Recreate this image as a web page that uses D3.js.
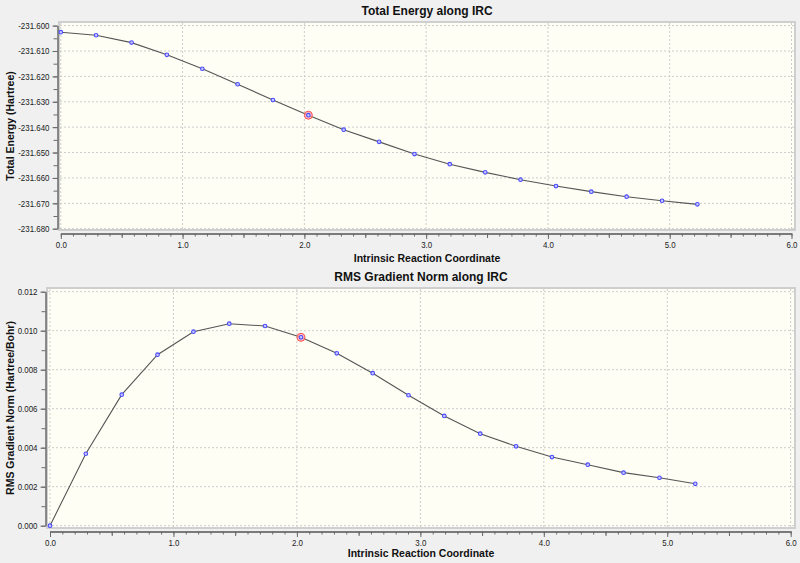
<!DOCTYPE html>
<html>
<head>
<meta charset="utf-8">
<script src="https://cdn.jsdelivr.net/npm/d3@7/dist/d3.min.js"></script>
<style>
  html, body { margin: 0; padding: 0; background: #f0f0f0; }
  svg { display: block; }
  .tick text { font-family: "Liberation Sans", Arial, sans-serif; font-size: 9px; fill: #222; }
</style>
</head>
<body>
<svg id="chart" width="800" height="563"></svg>
<script>
// ---- data ----
const ircCoord = [0, 0.290, 0.581, 0.871, 1.162, 1.452, 1.742, 2.033, 2.323, 2.614, 2.904, 3.194, 3.485, 3.775, 4.066, 4.356, 4.646, 4.937, 5.227];
const totalEnergy = [-231.6026, -231.6038, -231.6067, -231.6115, -231.6170, -231.6231, -231.6293, -231.6353, -231.6410, -231.6458, -231.6506, -231.6546, -231.6578, -231.6607, -231.6632, -231.6654, -231.6674, -231.6690, -231.6704];
const rmsGradient = [0, 0.00369, 0.00672, 0.00877, 0.00995, 0.01036, 0.01024, 0.00966, 0.00884, 0.00782, 0.00669, 0.00563, 0.00472, 0.00407, 0.00352, 0.00313, 0.00272, 0.00246, 0.00215];
const highlightIndex = 7;
const xTicks = [0, 1, 2, 3, 4, 5, 6];
const energyTicks = [-231.600, -231.610, -231.620, -231.630, -231.640, -231.650, -231.660, -231.670, -231.680];
const gradientTicks = [0.000, 0.002, 0.004, 0.006, 0.008, 0.010, 0.012];
const titles = ["Total Energy along IRC", "RMS Gradient Norm along IRC"];
const yTitles = ["Total Energy (Hartree)", "RMS Gradient Norm (Hartree/Bohr)"];
const xTitle = "Intrinsic Reaction Coordinate";

const svg = d3.select("#chart");
const fontMain = "'Liberation Sans', Arial, sans-serif";

function condense(sel, factor) {
  sel.each(function () {
    const len = this.getComputedTextLength();
    if (len > 0) {
      d3.select(this).attr("textLength", len * factor).attr("lengthAdjust", "spacingAndGlyphs");
    }
  });
}

function drawChart(cfg) {
  const g = svg.append("g");
  const x = d3.scaleLinear().domain([0, 6]).range(cfg.xRange);
  const y = d3.scaleLinear().domain(cfg.yDomain).range(cfg.yRange);

  // plot background
  g.append("rect")
    .attr("x", cfg.plot.x0).attr("y", cfg.plot.y0)
    .attr("width", cfg.plot.x1 - cfg.plot.x0).attr("height", cfg.plot.y1 - cfg.plot.y0)
    .attr("fill", "#fefef5").attr("stroke", "#cfcfcf").attr("stroke-width", 2);

  // grid
  g.append("g").selectAll("line").data(xTicks).join("line")
    .attr("x1", d => x(d)).attr("x2", d => x(d))
    .attr("y1", cfg.plot.y0 + 1).attr("y2", cfg.plot.y1 - 1)
    .attr("stroke", "#cccccc").attr("stroke-dasharray", "2,2");
  g.append("g").selectAll("line").data(cfg.yTicks).join("line")
    .attr("x1", cfg.plot.x0 + 1).attr("x2", cfg.plot.x1 - 1)
    .attr("y1", d => y(d)).attr("y2", d => y(d))
    .attr("stroke", "#cccccc").attr("stroke-dasharray", "2,2");

  // y axis
  const yMinor = d3.range(0, 2 * (cfg.yTicks.length - 1) + 1).map(i => cfg.yDomain[0] + i * cfg.yMinorStep);
  g.append("g").attr("transform", `translate(${cfg.yAxisX},0)`)
    .call(d3.axisLeft(y).tickValues(yMinor).tickSize(4).tickSizeOuter(0).tickFormat(""));
  const yAx = g.append("g").attr("transform", `translate(${cfg.yAxisX},0)`)
    .call(d3.axisLeft(y).tickValues(cfg.yTicks).tickSize(5).tickSizeOuter(0).tickPadding(3).tickFormat(d => d.toFixed(3)));
  condense(yAx.selectAll(".tick text"), 0.88);
  // x axis
  const xMinor = d3.range(0, 61).map(i => i / 10);
  const xMid = d3.range(0, 6).map(i => i + 0.5);
  g.append("g").attr("transform", `translate(0,${cfg.xAxisY})`)
    .call(d3.axisBottom(x).tickValues(xMinor).tickSize(3).tickSizeOuter(0).tickFormat(""));
  g.append("g").attr("transform", `translate(0,${cfg.xAxisY})`)
    .call(d3.axisBottom(x).tickValues(xMid).tickSize(4.5).tickSizeOuter(0).tickFormat(""));
  const xAx = g.append("g").attr("transform", `translate(0,${cfg.xAxisY})`)
    .call(d3.axisBottom(x).tickValues(xTicks).tickSize(5.5).tickSizeOuter(0).tickPadding(3).tickFormat(d => d.toFixed(1)));
  condense(xAx.selectAll(".tick text"), 0.88);
  g.selectAll(".domain, .tick line").attr("stroke", "#6a6a6a");

  // line
  const pts = ircCoord.map((c, i) => [c, cfg.values[i]]);
  g.append("path").datum(pts)
    .attr("fill", "none").attr("stroke", "#555555").attr("stroke-width", 1.1)
    .attr("d", d3.line().x(d => x(d[0])).y(d => y(d[1])));

  // highlight
  g.append("circle")
    .attr("cx", x(pts[highlightIndex][0])).attr("cy", y(pts[highlightIndex][1]))
    .attr("r", 4).attr("fill", "#ffb0b0").attr("fill-opacity", 0.8)
    .attr("stroke", "#ff5050").attr("stroke-width", 1);

  // points
  g.append("g").selectAll("circle").data(pts).join("circle")
    .attr("cx", d => x(d[0])).attr("cy", d => y(d[1]))
    .attr("r", 1.8).attr("fill", "#c8c8ff").attr("stroke", "#4a4aff").attr("stroke-width", 1.1);

  // titles
  g.append("text").attr("x", (cfg.plot.x0 + cfg.plot.x1) / 2).attr("y", cfg.titleY)
    .attr("text-anchor", "middle").attr("font-family", fontMain)
    .attr("font-size", 12).attr("font-weight", "bold").attr("fill", "#111").text(cfg.title);
  g.append("text").attr("x", (cfg.plot.x0 + cfg.plot.x1) / 2).attr("y", cfg.xTitleY)
    .attr("text-anchor", "middle").attr("font-family", fontMain)
    .attr("font-size", 10.5).attr("font-weight", "bold").attr("fill", "#111").text(xTitle);
  g.append("text")
    .attr("transform", `translate(14,${(cfg.plot.y0 + cfg.plot.y1) / 2}) rotate(-90)`)
    .attr("text-anchor", "middle").attr("font-family", fontMain)
    .attr("font-size", 10.5).attr("font-weight", "bold").attr("fill", "#111").text(cfg.yTitle);
}

drawChart({
  plot: { x0: 59, x1: 795, y0: 22, y1: 230 },
  xRange: [60.8, 791.5],
  yDomain: [-231.68, -231.60],
  yRange: [228.7, 25.6],
  yTicks: energyTicks,
  yMinorStep: 0.005,
  yAxisX: 57.5,
  xAxisY: 233.5,
  values: totalEnergy,
  title: titles[0],
  yTitle: yTitles[0],
  titleY: 15,
  xTitleY: 262
});

drawChart({
  plot: { x0: 47, x1: 795, y0: 288, y1: 528 },
  xRange: [50, 790.7],
  yDomain: [0, 0.012],
  yRange: [525.7, 291.7],
  yTicks: gradientTicks,
  yMinorStep: 0.001,
  yAxisX: 45.5,
  xAxisY: 531.5,
  values: rmsGradient,
  title: titles[1],
  yTitle: yTitles[1],
  titleY: 281,
  xTitleY: 557
});
</script>
</body>
</html>
